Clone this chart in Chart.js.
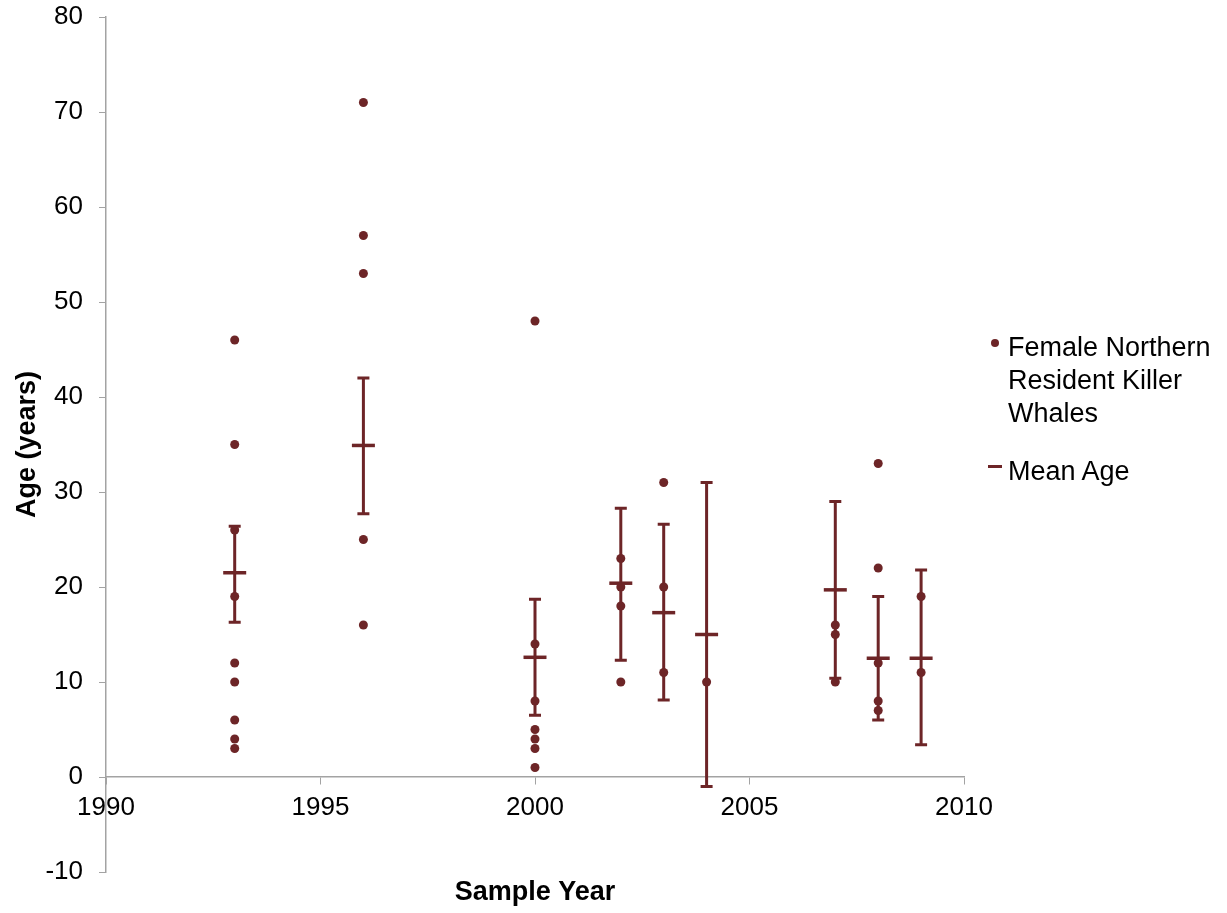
<!DOCTYPE html>
<html>
<head>
<meta charset="utf-8">
<script src="https://cdn.jsdelivr.net/npm/chart.js@4.4.1/dist/chart.umd.min.js"></script>
<style>
  body { margin: 0; background: #fff; }
  #wrap { position: relative; width: 1227px; height: 913px; font-family: "Liberation Sans", Arial, Helvetica, sans-serif; }
  #ageChart { position: absolute; left: 0; top: 0; }
  .leg { position: absolute; left: 1008px; font-size: 27px; line-height: 33px; color: #000; }
  .dot { position: absolute; width: 8px; height: 8px; border-radius: 50%; background: #6d2527; }
  .dash { position: absolute; width: 14px; height: 3px; background: #6d2527; }
</style>
</head>
<body>
<div id="wrap">
  <canvas id="ageChart" width="1227" height="913"></canvas>
  <div class="dot" style="left:991px; top:339px;"></div>
  <div class="leg" style="top:331px;">Female Northern<br>Resident Killer<br>Whales</div>
  <div class="dash" style="left:988px; top:465px;"></div>
  <div class="leg" style="top:455px;">Mean Age</div>
</div>
<script>
// individual whales: sample year and age
const dotYear = [1993, 1993, 1993, 1993, 1993, 1993, 1993, 1993, 1993,
                 1996, 1996, 1996, 1996, 1996,
                 2000, 2000, 2000, 2000, 2000, 2000, 2000,
                 2002, 2002, 2002, 2002,
                 2003, 2003, 2003,
                 2004,
                 2007, 2007, 2007,
                 2008, 2008, 2008, 2008, 2008,
                 2009, 2009];
const dotAge = [46, 35, 26, 19, 12, 10, 6, 4, 3,
                71, 57, 53, 25, 16,
                48, 14, 8, 5, 4, 3, 1,
                23, 20, 18, 10,
                31, 20, 11,
                10,
                16, 15, 10,
                33, 22, 12, 8, 7,
                19, 11];

// mean age per year with error bar ends
const meanYear = [1993, 1996, 2000, 2002, 2003, 2004, 2007, 2008, 2009];
const meanAge = [21.5, 34.9, 12.6, 20.4, 17.3, 15.0, 19.7, 12.5, 12.5];
const errLow = [16.3, 27.7, 6.5, 12.3, 8.1, -1.0, 10.4, 6.0, 3.4];
const errHigh = [26.4, 42.0, 18.7, 28.3, 26.6, 31.0, 29.0, 19.0, 21.8];

const xTicks = [1990, 1995, 2000, 2005, 2010];
const yTicks = [-10, 0, 10, 20, 30, 40, 50, 60, 70, 80];

const maroon = "#6d2527";
const axisGrey = "#a3a3a3";

Chart.defaults.font.family = '"Liberation Sans", Arial, Helvetica, sans-serif';
Chart.defaults.color = "#000";

// error bars for the mean series
const errorBars = {
  id: "errorBars",
  beforeDatasetsDraw(chart) {
    const ctx = chart.ctx;
    const xs = chart.scales.x;
    const ys = chart.scales.y;
    ctx.save();
    ctx.strokeStyle = maroon;
    ctx.lineWidth = 3;
    meanYear.forEach((yr, i) => {
      const px = xs.getPixelForValue(yr);
      const top = ys.getPixelForValue(errHigh[i]);
      const bot = ys.getPixelForValue(errLow[i]);
      ctx.beginPath();
      ctx.moveTo(px, top);
      ctx.lineTo(px, bot);
      ctx.moveTo(px - 6, top);
      ctx.lineTo(px + 6, top);
      ctx.moveTo(px - 6, bot);
      ctx.lineTo(px + 6, bot);
      ctx.stroke();
    });
    ctx.restore();
  }
};

const ctx = document.getElementById("ageChart").getContext("2d");
new Chart(ctx, {
  type: "scatter",
  data: {
    datasets: [
      {
        label: "Female Northern Resident Killer Whales",
        data: dotYear.map((yr, i) => ({ x: yr, y: dotAge[i] })),
        backgroundColor: maroon,
        borderColor: maroon,
        pointRadius: 4.5,
        pointBorderWidth: 0
      },
      {
        label: "Mean Age",
        data: meanYear.map((yr, i) => ({ x: yr, y: meanAge[i] })),
        pointStyle: "line",
        pointRadius: 11.5,
        borderColor: maroon,
        backgroundColor: maroon,
        pointBorderWidth: 3.5
      }
    ]
  },
  options: {
    responsive: false,
    animation: false,
    layout: { padding: { top: 17, right: 263, left: 0, bottom: 0 } },
    plugins: {
      legend: { display: false },
      tooltip: { enabled: false }
    },
    scales: {
      x: {
        type: "linear",
        position: { y: 0 },
        min: xTicks[0],
        max: xTicks[xTicks.length - 1],
        afterBuildTicks: s => { s.ticks = xTicks.map(v => ({ value: v })); },
        ticks: { font: { size: 26 }, padding: 8, callback: v => String(v), maxRotation: 0 },
        grid: { drawOnChartArea: false, drawTicks: true, tickLength: 7, color: axisGrey },
        border: { color: axisGrey, width: 1.5 },
        afterFit: s => { s.paddingLeft = 0; s.paddingRight = 0; s.paddingTop = 0; s.paddingBottom = 0; }
      },
      x2: {
        type: "linear",
        position: "bottom",
        min: xTicks[0],
        max: xTicks[xTicks.length - 1],
        ticks: { display: false },
        grid: { display: false },
        border: { display: false },
        title: { display: true, text: "Sample Year", font: { size: 27, weight: "bold" }, padding: { top: 0, bottom: 4 } },
        afterFit: s => { s.height = 41; s.paddingLeft = 0; s.paddingRight = 0; }
      },
      y: {
        type: "linear",
        position: "left",
        min: yTicks[0],
        max: yTicks[yTicks.length - 1],
        afterBuildTicks: s => { s.ticks = yTicks.map(v => ({ value: v })); },
        ticks: { font: { size: 26 }, padding: 16, callback: v => String(v) },
        grid: { drawOnChartArea: false, drawTicks: true, tickLength: 7, color: axisGrey },
        border: { color: axisGrey, width: 1.5 },
        title: { display: true, text: "Age (years)", font: { size: 27, weight: "bold" }, padding: { top: 11, bottom: 5 } },
        afterFit: s => { s.width = 106; s.paddingTop = 0; s.paddingBottom = 0; }
      }
    }
  },
  plugins: [errorBars]
});
</script>
</body>
</html>
